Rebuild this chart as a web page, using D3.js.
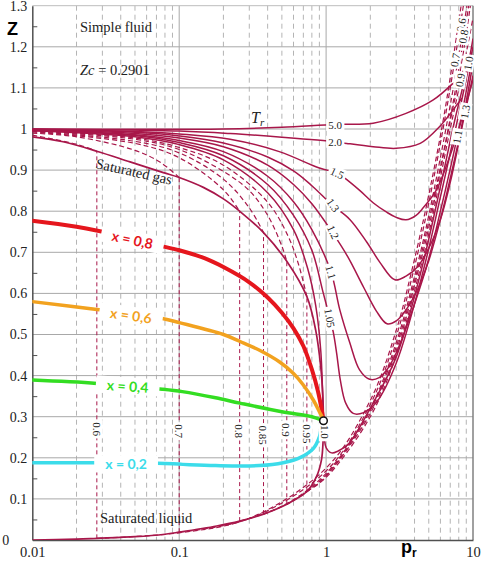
<!DOCTYPE html>
<html><head><meta charset="utf-8">
<script src="https://cdn.jsdelivr.net/npm/d3@7"></script>
<style>body{margin:0;background:#fff}svg{display:block}</style>
</head><body>
<script>
// ---------------- DATA (pr, Z) ----------------
const xTicks = [0.01, 0.1, 1, 10];
const xTickLabels = ["0.01", "0.1", "1", "10"];
const yTicks = [0,0.1,0.2,0.3,0.4,0.5,0.6,0.7,0.8,0.9,1,1.1,1.2,1.3];
const yTickLabels = ["0","0.1","0.2","0.3","0.4","0.5","0.6","0.7","0.8","0.9","1","1.1","1.2","1.3"];

const criticalPoint = [0.96, 0.29];

const satGas = [[0.01,0.981],[0.0162,0.969],[0.0275,0.946],[0.0463,0.92],[0.078,0.894],[0.1,0.882],[0.146,0.858],[0.2,0.83],[0.258,0.80],[0.375,0.748],[0.54,0.678],[0.74,0.592],[0.85,0.51],[0.92,0.42],[0.95,0.35],[0.96,0.29]];
const satLiquid = [[0.01,0.0],[0.02,0.002],[0.0275,0.004],[0.05,0.008],[0.08,0.014],[0.1,0.019],[0.18,0.034],[0.258,0.046],[0.375,0.063],[0.54,0.087],[0.74,0.118],[0.86,0.154],[0.93,0.195],[0.955,0.245],[0.96,0.29]];

// subcritical isotherms, vapour branch (dashed)
const gasTr060 = [[0.01,0.985],[0.02,0.963],[0.0275,0.946]];
const gasTr070 = [[0.01,0.990],[0.02,0.981],[0.05,0.948],[0.075,0.918],[0.1,0.882]];
const gasTr080 = [[0.01,0.993],[0.05,0.965],[0.1,0.930],[0.2,0.852],[0.258,0.80]];
const gasTr085 = [[0.01,0.994],[0.05,0.970],[0.1,0.942],[0.2,0.878],[0.3,0.808],[0.375,0.748]];
const gasTr090 = [[0.01,0.995],[0.05,0.975],[0.1,0.950],[0.2,0.897],[0.3,0.850],[0.4,0.79],[0.5,0.715],[0.54,0.678]];
const gasTr095 = [[0.01,0.996],[0.05,0.978],[0.1,0.955],[0.2,0.912],[0.4,0.822],[0.55,0.74],[0.65,0.67],[0.74,0.592]];
// subcritical isotherms, liquid branch (dashed)
const liqTr060 = [[0.0275,0.004],[0.1,0.0175],[0.3,0.053],[1,0.175],[2,0.34],[3,0.51],[3.84,0.657],[5,0.84],[6.4,1.04],[8.3,1.3]];
const liqTr070 = [[0.1,0.019],[0.3,0.052],[1,0.168],[2,0.33],[3,0.495],[3.95,0.657],[5,0.82],[6.7,1.06],[8.6,1.3]];
const liqTr080 = [[0.258,0.046],[0.5,0.082],[1,0.162],[2,0.32],[3,0.48],[4.1,0.657],[5,0.79],[7.1,1.07],[9.1,1.3]];
const liqTr085 = [[0.375,0.063],[0.6,0.096],[1,0.158],[2,0.315],[3,0.47],[4.18,0.657],[5,0.775],[7.2,1.05],[9.35,1.3]];
const liqTr090 = [[0.54,0.087],[0.8,0.126],[1,0.155],[2,0.308],[3,0.46],[4.25,0.657],[5,0.76],[7,1.02],[8.1,1.13],[9.6,1.3]];
const liqTr095 = [[0.74,0.118],[1,0.152],[2,0.3],[3,0.45],[4.35,0.657],[5,0.745],[7,1.0],[8.6,1.15],[10,1.27]];
// critical and supercritical isotherms (solid)
const isoTr100 = [[0.01,0.996],[0.05,0.981],[0.1,0.962],[0.2,0.925],[0.4,0.845],[0.6,0.755],[0.75,0.66],[0.85,0.57],[0.92,0.46],[0.96,0.29],[0.975,0.245],[1.0,0.225],[1.09,0.212],[1.2,0.216],[1.43,0.235],[2.1,0.335],[3,0.445],[4.45,0.657],[6,0.86],[7.5,1.02],[9.3,1.16],[10,1.22]];
const isoTr105 = [[0.01,0.997],[0.05,0.984],[0.1,0.967],[0.2,0.935],[0.4,0.865],[0.6,0.79],[0.8,0.705],[0.95,0.605],[1.06,0.54],[1.12,0.505],[1.18,0.454],[1.25,0.389],[1.36,0.333],[1.53,0.308],[1.8,0.31],[2.2,0.335],[3,0.43],[4.6,0.657],[6,0.835],[7.5,0.99],[10,1.2]];
const isoTr110 = [[0.01,0.997],[0.05,0.986],[0.1,0.972],[0.2,0.945],[0.4,0.885],[0.6,0.823],[0.8,0.755],[1.08,0.652],[1.24,0.56],[1.45,0.48],[1.69,0.414],[1.98,0.391],[2.3,0.395],[2.6,0.415],[3,0.455],[4.75,0.657],[6,0.8],[7.8,0.98],[10,1.18]];
const isoTr120 = [[0.01,0.998],[0.05,0.989],[0.1,0.978],[0.2,0.957],[0.4,0.912],[0.6,0.865],[0.8,0.818],[1.1,0.749],[1.4,0.69],[1.8,0.615],[2.2,0.557],[2.6,0.526],[3,0.533],[3.5,0.56],[4.2,0.61],[5,0.68],[6,0.78],[7,0.88],[8.3,1.0],[10,1.16]];
const isoTr130 = [[0.01,0.9985],[0.05,0.992],[0.1,0.983],[0.2,0.966],[0.4,0.932],[0.6,0.898],[0.8,0.862],[1.1,0.815],[1.45,0.78],[1.89,0.725],[2.33,0.675],[2.94,0.633],[3.5,0.642],[4.2,0.665],[5,0.71],[6,0.78],[7,0.87],[8.9,1.046],[10,1.13]];
const isoTr150 = [[0.01,0.999],[0.05,0.994],[0.1,0.988],[0.222,0.975],[0.48,0.945],[0.9,0.905],[1.19,0.893],[1.3,0.884],[1.7,0.85],[2.1,0.82],[2.6,0.797],[3.0,0.785],[3.5,0.779],[4.1,0.79],[4.5,0.805],[5.6,0.85],[6.66,0.915],[8,1.0],[10,1.12]];
const isoTr200 = [[0.01,1.0],[0.1,0.995],[0.222,0.989],[0.5,0.98],[1.15,0.969],[1.38,0.965],[2.09,0.957],[3.0,0.953],[4.37,0.965],[5.93,1.006],[7.3,1.046],[8.4,1.075]];
const isoTr500 = [[0.01,1.0],[0.2,1.0],[0.5,1.004],[1.15,1.011],[2.09,1.014],[3.5,1.038],[5.33,1.07],[7.3,1.111]];

// lines of constant quality x
const qual08 = [[0.01,0.777],[0.02,0.762],[0.04,0.74],[0.07,0.718],[0.1,0.705],[0.15,0.685],[0.2,0.664],[0.3,0.627],[0.4,0.59],[0.5,0.553],[0.6,0.515],[0.7,0.472],[0.8,0.415],[0.88,0.362],[0.93,0.32],[0.96,0.29]];
const qual06 = [[0.01,0.58],[0.0275,0.561],[0.0767,0.539],[0.1,0.529],[0.2,0.50],[0.26,0.483],[0.355,0.461],[0.483,0.433],[0.6,0.405],[0.7,0.377],[0.82,0.34],[0.9,0.312],[0.945,0.297],[0.96,0.29]];
const qual04 = [[0.01,0.389],[0.0275,0.381],[0.0767,0.367],[0.105,0.361],[0.177,0.346],[0.259,0.333],[0.5,0.312],[0.8,0.30],[0.93,0.292],[0.96,0.29]];
const qual02 = [[0.01,0.188],[0.0252,0.188],[0.071,0.187],[0.106,0.184],[0.177,0.181],[0.35,0.181],[0.51,0.188],[0.67,0.201],[0.82,0.223],[0.9,0.251],[0.93,0.275],[0.96,0.29]];
const qualNames = ["x = 0,8","x = 0,6","x = 0,4","x = 0,2"];
const qualLabelPr = [0.0481, 0.047, 0.0446, 0.0435];
const qualLabelZ = [0.731, 0.547, 0.375, 0.185];

// two-phase tie lines (saturation pressure)
const tiePr = [0.0275, 0.1, 0.258, 0.375, 0.54, 0.74];
const tieZl = [0.004, 0.019, 0.046, 0.063, 0.087, 0.118];
const tieZg = [0.946, 0.882, 0.80, 0.748, 0.678, 0.592];
const tieLabels = ["0.6","0.7","0.8","0.85","0.9","0.95","1.0"];
const tieLabelPr = [0.0275, 0.1, 0.256, 0.372, 0.537, 0.737, 0.98];
const tieLabelZ = [0.27, 0.265, 0.265, 0.255, 0.268, 0.258, 0.263];

// isotherm labels
const midLabels = ["5.0","2.0","1.5","1.3","1.2","1.1","1.05"];
const midLabelPr = [1.15, 1.15, 1.19, 1.12, 1.12, 1.08, 1.06];
const midLabelZ = [1.010, 0.969, 0.893, 0.815, 0.749, 0.652, 0.54];
const rightLabels = ["0.6","0.8","0.7","1.0","0.9","1.3","1.1"];
const rightLabelPr = [8.3, 8.59, 7.54, 9.29, 8.16, 8.82, 7.82];
const rightLabelZ = [1.253, 1.225, 1.168, 1.16, 1.119, 1.042, 0.981];

// ---------------- DRAWING ----------------
const W = 485, H = 564;
const L = 32.3, R = 473, T = 5.7, B = 540;
const serif = "'Liberation Serif','DejaVu Serif',serif";
const sans = "'Liberation Sans',Arial,sans-serif";
const isoColor = "#a8174a";

const x = d3.scaleLog().domain([0.01, 10]).range([L, R]);
const y = d3.scaleLinear().domain([0, 1.3]).range([B, T]);

const svg = d3.select("body").append("svg").attr("width", W).attr("height", H);
svg.append("defs").append("clipPath").attr("id","plot")
  .append("rect").attr("x",L).attr("y",T).attr("width",R-L).attr("height",B-T);

// grid
const grid = svg.append("g");
const minors = [];
[0.01,0.1,1].forEach(d => { for (let k=2;k<=9;k++) minors.push(d*k); });
grid.selectAll(".vminor").data(minors).join("line")
  .attr("x1",d=>x(d)).attr("x2",d=>x(d)).attr("y1",T).attr("y2",B)
  .attr("stroke","#b4b4b4").attr("stroke-width",1).attr("stroke-dasharray","5,4");
grid.selectAll(".vmajor").data([0.1,1]).join("line")
  .attr("x1",d=>x(d)).attr("x2",d=>x(d)).attr("y1",T).attr("y2",B)
  .attr("stroke","#a8a8a8").attr("stroke-width",1);
grid.selectAll(".hmajor").data(yTicks.filter(v=>v>0 && v<1.3)).join("line")
  .attr("x1",L).attr("x2",R).attr("y1",d=>y(d)).attr("y2",d=>y(d))
  .attr("stroke","#a8a8a8").attr("stroke-width",1);
// frame
svg.append("line").attr("x1",L).attr("x2",R).attr("y1",T).attr("y2",T).attr("stroke","#bdbdbd");
svg.append("line").attr("x1",R).attr("x2",R).attr("y1",T).attr("y2",B).attr("stroke","#808080").attr("stroke-width",1.5);

// axes
const yAxis = svg.append("g").attr("transform",`translate(${L},0)`)
  .call(d3.axisLeft(y).tickValues(yTicks).tickSize(0).tickPadding(5).tickFormat((d,i)=>yTickLabels[i]));
yAxis.select(".domain").attr("stroke","#505050").attr("stroke-width",1.5);
yAxis.selectAll("text").attr("font-family",serif).attr("font-size",14).attr("fill","#222");
yAxis.selectAll(".tick").filter(d=>d===0).select("text").attr("x",-23);
const yMinor = svg.append("g").attr("transform",`translate(${L},0)`)
  .call(d3.axisRight(y).tickValues(d3.range(0.05,1.3,0.1)).tickSize(5).tickFormat(""));
yMinor.select(".domain").remove();
yMinor.selectAll("line").attr("stroke","#505050");

const xAxis = svg.append("g").attr("transform",`translate(0,${B})`)
  .call(d3.axisBottom(x).tickValues(xTicks).tickSize(0).tickPadding(7).tickFormat((d,i)=>xTickLabels[i]));
xAxis.select(".domain").attr("stroke","#505050").attr("stroke-width",1.5);
xAxis.selectAll("text").attr("font-family",serif).attr("font-size",14.5).attr("fill","#222");

// curves
const plot = svg.append("g").attr("clip-path","url(#plot)");
const line = d3.line().x(d=>x(d[0])).y(d=>y(d[1])).curve(d3.curveCatmullRom.alpha(0.5));
const straight = d3.line().x(d=>x(d[0])).y(d=>y(d[1]));

// tie lines
tiePr.forEach((p,i)=>{
  plot.append("path").attr("d", straight([[p,tieZl[i]],[p,tieZg[i]]]))
    .attr("fill","none").attr("stroke",isoColor).attr("stroke-width",1).attr("stroke-dasharray","4,3");
});
const dashed = [gasTr060,gasTr070,gasTr080,gasTr085,gasTr090,gasTr095,liqTr060,liqTr070,liqTr080,liqTr085,liqTr090,liqTr095];
dashed.forEach(s=>{
  plot.append("path").attr("d",line(s)).attr("fill","none").attr("stroke",isoColor)
    .attr("stroke-width",1.2).attr("stroke-dasharray","5,3");
});
const solid = [isoTr100,isoTr105,isoTr110,isoTr120,isoTr130,isoTr150,isoTr200,isoTr500];
solid.forEach(s=>{
  plot.append("path").attr("d",line(s)).attr("fill","none").attr("stroke",isoColor).attr("stroke-width",1.5);
});
[satGas, satLiquid].forEach(s=>{
  plot.append("path").attr("d",line(s)).attr("fill","none").attr("stroke",isoColor).attr("stroke-width",1.7);
});

const qualSeries = [qual08, qual06, qual04, qual02];
const qualColors = ["#e5161d","#f2a21f","#33dd22","#3cdcea"];
const qualWidths = [4, 3.5, 3.5, 3.5];
qualSeries.forEach((s,i)=>{
  plot.append("path").attr("d",line(s)).attr("fill","none").attr("stroke",qualColors[i])
    .attr("stroke-width",qualWidths[i]).attr("stroke-linecap","round");
});

// labels with white boxes
const labels = svg.append("g");
function boxLabel(px, py, txt, o) {
  const g = labels.append("g").attr("transform",`translate(${px},${py}) rotate(${o.rot||0})`);
  const t = g.append("text").attr("text-anchor","middle").attr("dominant-baseline","central")
    .attr("font-family",o.font||serif).attr("font-size",o.size||11)
    .attr("font-weight",o.weight||"normal").attr("font-style",o.style||"normal")
    .attr("fill",o.fill||"#222").text(txt);
  const bb = t.node().getBBox();
  const px2 = o.padX==null?2:o.padX, py2 = o.padY==null?0:o.padY;
  g.insert("rect","text").attr("x",bb.x-px2).attr("y",bb.y-py2)
    .attr("width",bb.width+2*px2).attr("height",bb.height+2*py2).attr("fill","#fff");
}
const midRot = [0,0,25,55,65,75,80];
midLabels.forEach((t,i)=>boxLabel(x(midLabelPr[i]),y(midLabelZ[i]),t,{rot:midRot[i],size:11,padX:2}));
rightLabels.forEach((t,i)=>boxLabel(x(rightLabelPr[i]),y(rightLabelZ[i]),t,{rot:-80,size:11,padX:1.5}));
tieLabels.forEach((t,i)=>boxLabel(x(tieLabelPr[i]),y(tieLabelZ[i]),t,{rot:90,size:11,padX:2}));
const qualRot = [12, 8, 4, 0];
qualNames.forEach((t,i)=>boxLabel(x(qualLabelPr[i]),y(qualLabelZ[i]),t,
  {rot:qualRot[i],size:14,weight:"bold",font:"Lato,'Open Sans',sans-serif",fill:qualColors[i],padX:11,padY:0}));

// critical point
svg.append("circle").attr("cx",x(criticalPoint[0])).attr("cy",y(criticalPoint[1])).attr("r",3.8)
  .attr("fill","#fff").attr("stroke","#111").attr("stroke-width",1.5);

// texts
svg.append("text").attr("x",80).attr("y",32).attr("font-family",serif).attr("font-size",14.5).attr("fill","#222").text("Simple fluid");
const zc = svg.append("text").attr("x",80).attr("y",75).attr("font-family",serif).attr("font-size",14.5).attr("fill","#222");
zc.append("tspan").attr("font-style","italic").text("Zc");
zc.append("tspan").text(" = 0.2901");
svg.append("text").attr("transform","translate(95,168) rotate(12.5)").attr("font-family",serif).attr("font-size",14.5).attr("fill","#222").text("Saturated gas");
svg.append("text").attr("x",100).attr("y",523).attr("font-family",serif).attr("font-size",14.5).attr("fill","#222").text("Saturated liquid");
const tr = svg.append("text").attr("x",251).attr("y",123).attr("font-family",serif).attr("fill","#222");
tr.append("tspan").attr("font-style","italic").attr("font-size",16).text("T");
tr.append("tspan").attr("font-style","italic").attr("font-size",11).attr("dy",3).text("r");
svg.append("text").attr("x",7).attr("y",35).attr("font-family",sans).attr("font-weight","bold").attr("font-size",18).attr("fill","#000").text("Z");
const prl = svg.append("text").attr("x",401).attr("y",553).attr("font-family",sans).attr("font-weight","bold").attr("fill","#000");
prl.append("tspan").attr("font-size",18).text("p");
prl.append("tspan").attr("font-size",12).attr("dy",4).text("r");
</script>
</body></html>
